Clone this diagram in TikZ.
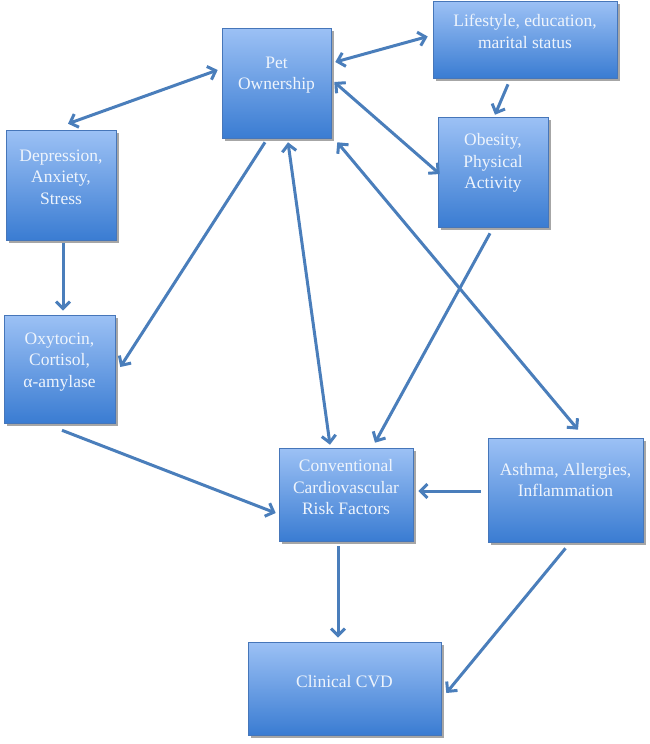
\documentclass[tikz,border=0pt]{standalone}
\usepackage{fontspec}
\setmainfont{Liberation Serif}
\usetikzlibrary{arrows.meta,calc,shadows}
\definecolor{arrowblue}{RGB}{74,126,187}
\definecolor{boxtop}{RGB}{156,193,245}
\definecolor{boxbot}{RGB}{58,124,210}
\definecolor{boxedge}{RGB}{70,118,185}
\definecolor{txtwhite}{RGB}{238,244,252}
\tikzset{
  box/.style={draw=boxedge, line width=0.6pt, top color=boxtop, bottom color=boxbot,
    drop shadow={shadow xshift=2.5pt, shadow yshift=-2.5pt, opacity=0.35, fill=black},
    inner sep=0pt},
  txt/.style={text=txtwhite, align=center, inner sep=0pt,
    font=\fontsize{17.5}{21.5}\selectfont},
  conn/.style={draw=arrowblue, line width=3pt, -{Straight Barb[length=7pt,width=14pt]}},
  bconn/.style={draw=arrowblue, line width=3pt, {Straight Barb[length=7pt,width=14pt]}-{Straight Barb[length=7pt,width=14pt]}}
}
\begin{document}
\begin{tikzpicture}[x=1pt,y=-1pt]
\useasboundingbox (0,0) rectangle (649,744);
% boxes
\node[box, minimum width=109pt, minimum height=110pt] (pet) at (276.5,83) {};
\node[box, minimum width=184pt, minimum height=77pt] (life) at (525,39.5) {};
\node[box, minimum width=110pt, minimum height=110pt] (obes) at (493,172) {};
\node[box, minimum width=110pt, minimum height=110pt] (dep) at (61,185) {};
\node[box, minimum width=111pt, minimum height=108pt] (oxy) at (59.5,369) {};
\node[box, minimum width=134pt, minimum height=93pt] (conv) at (346,494.5) {};
\node[box, minimum width=155pt, minimum height=104pt] (asth) at (565.5,490) {};
\node[box, minimum width=193pt, minimum height=93pt] (clin) at (344.5,688.5) {};
% texts
\node[txt] (pett) at ($(pet.center)+(0,-8)$) {Pet\\Ownership};
\node[txt] (lifet) at ($(life.center)+(0,-8)$) {Lifestyle, education,\\marital status};
\node[txt] (obest) at ($(obes.center)+(0,-9)$) {Obesity,\\Physical\\Activity};
\node[txt] (dept) at ($(dep.center)+(0,-8)$) {Depression,\\Anxiety,\\Stress};
\node[txt] (oxyt) at ($(oxy.center)+(0,-7)$) {Oxytocin,\\Cortisol,\\α-amylase};
\node[txt] (convt) at ($(conv.center)+(0,-7)$) {Conventional\\Cardiovascular\\Risk Factors};
\node[txt] (astht) at ($(asth.center)+(0,-10)$) {Asthma, Allergies,\\Inflammation};
\node[txt] (clint) at ($(clin.center)+(0,-7)$) {Clinical CVD};
% connectors
\draw[bconn] ($(pet.east)+(4,-21)$) -- ($(life.west)+(-5,-3)$);
\draw[bconn] ($(pet.west)+(-4,-13)$) -- ($(dep.north)+(7,-6)$);
\draw[bconn] ($(pet.east)+(3,-1)$) -- ($(obes.west)+(2,2)$);
\draw[conn] ($(pet.south)+(-11.5,4)$) -- ($(oxy.east)+(5,-2)$);
\draw[bconn] ($(pet.south)+(11.5,4)$) -- ($(conv.north)+(-16,-3)$);
\draw[bconn] ($(pet.south east)+(6,4)$) -- ($(asth.north)+(12.5,-8)$);
\draw[conn] ($(life.south)+(-17,6)$) -- ($(obes.north)+(2,-2)$);
\draw[conn] ($(dep.south)+(2,3)$) -- ($(oxy.north)+(3.5,-4)$);
\draw[conn] ($(obes.south)+(-3,6)$) -- ($(conv.north)+(29,-5)$);
\draw[conn] ($(oxy.south)+(2.5,7)$) -- ($(conv.west)+(-3,18.5)$);
\draw[conn] ($(asth.west)+(-7,1)$) -- ($(conv.east)+(5,-3.5)$);
\draw[conn] ($(conv.south)+(-8,5)$) -- ($(clin.north)+(-6.5,-4)$);
\draw[conn] ($(asth.south)+(0,6)$) -- ($(clin.east)+(5,4.5)$);
\end{tikzpicture}
\end{document}
